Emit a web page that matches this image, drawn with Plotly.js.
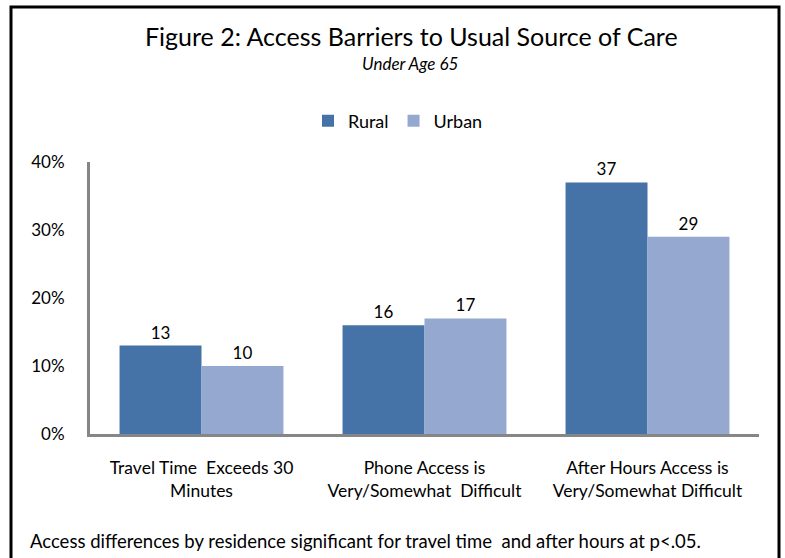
<!DOCTYPE html>
<html>
<head>
<meta charset="utf-8">
<script src="https://cdn.plot.ly/plotly-3.0.1.min.js"></script>
<style>html,body{margin:0;padding:0;background:#fff;}#chart{width:785px;height:558px;}</style>
</head>
<body>
<div id="chart"></div>
<script>
const categories = ["Travel Time  Exceeds 30<br>Minutes", "Phone Access is<br>Very/Somewhat  Difficult", "After Hours Access is<br>Very/Somewhat Difficult"];
const rural = [13, 16, 37];
const urban = [10, 17, 29];
const yTicks = [0, 10, 20, 30, 40];
const yTickLabels = ["0%", "10%", "20%", "30%", "40%"];

const FONT = "Lato, sans-serif";

const traces = [
  {type: 'bar', name: 'Rural', x: categories, y: rural, marker: {color: '#4573A7'},
   text: rural.map(String), textposition: 'outside', cliponaxis: false,
   textfont: {family: FONT, size: 17, color: '#000'}, hoverinfo: 'none'},
  {type: 'bar', name: 'Urban', x: categories, y: urban, marker: {color: '#94A8D0'},
   text: urban.map(String), textposition: 'outside', cliponaxis: false,
   textfont: {family: FONT, size: 17, color: '#000'}, hoverinfo: 'none'}
];

const L = 90, R = 759, T = 162, B = 434, W = 785, H = 558;
const px = v => (v - L) / (R - L);
const py = v => (B - v) / (B - T);

const layout = {
  width: W, height: H,
  margin: {l: L, r: W - R, t: T, b: H - B, pad: 0},
  paper_bgcolor: '#fff', plot_bgcolor: '#fff',
  font: {family: FONT, size: 17, color: '#000'},
  barmode: 'group', bargap: 0.265, bargroupgap: 0,
  showlegend: true,
  legend: {orientation: 'h', x: px(398), xanchor: 'center', y: py(121), yanchor: 'middle',
           font: {family: FONT, size: 18, color: '#000'}, itemwidth: 30, traceorder: 'normal'},
  xaxis: {showgrid: false, zeroline: false, showline: true, linecolor: '#868686', linewidth: 3,
          ticks: '', tickfont: {family: FONT, size: 17.5, color: '#000'}, ticklabelstandoff: 16, fixedrange: true},
  yaxis: {range: [0, 40], tickvals: yTicks, ticktext: yTickLabels, showgrid: false, zeroline: false,
          showline: true, linecolor: '#868686', linewidth: 3, ticks: '',
          tickfont: {family: FONT, size: 17, color: '#000'}, ticklabelstandoff: 19, fixedrange: true},
  annotations: [
    {text: 'Figure 2: Access Barriers to Usual Source of Care', xref: 'paper', yref: 'paper',
     x: px(411), y: py(36), xanchor: 'center', yanchor: 'middle', showarrow: false,
     font: {family: FONT, size: 25, color: '#000'}},
    {text: '<i>Under Age 65</i>', xref: 'paper', yref: 'paper',
     x: px(410), y: py(64), xanchor: 'center', yanchor: 'middle', showarrow: false,
     font: {family: FONT, size: 17, color: '#000'}},
    {text: 'Access differences by residence significant for travel time  and after hours at p<.05.', xref: 'paper', yref: 'paper',
     x: px(28), y: py(541), xanchor: 'left', yanchor: 'middle', showarrow: false,
     font: {family: FONT, size: 18.5, color: '#000'}}
  ],
  shapes: [
    {type: 'rect', xref: 'paper', yref: 'paper', x0: px(11), x1: px(779), y0: py(7), y1: py(566),
     line: {color: '#000', width: 3}, fillcolor: 'rgba(0,0,0,0)', layer: 'above'}
  ]
};

Plotly.newPlot('chart', traces, layout, {displayModeBar: false, staticPlot: true});
</script>
</body>
</html>
